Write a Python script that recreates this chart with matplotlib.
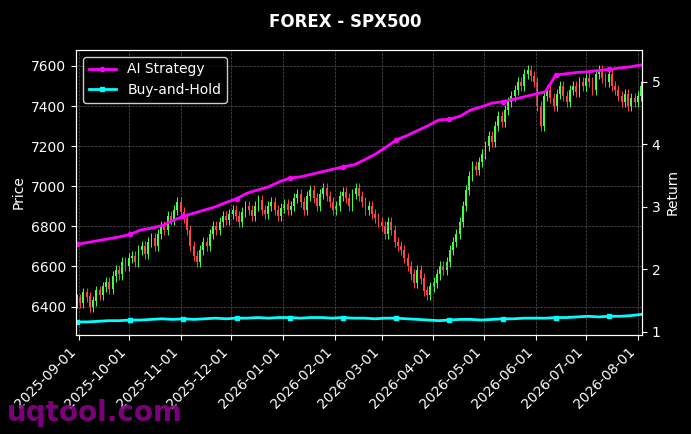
import matplotlib
matplotlib.use('Agg')
import matplotlib.pyplot as plt
import matplotlib.dates as mdates
import numpy as np
import pandas as pd

# estimated closes, evenly spread from 2025-08-31 to 2026-08-03
closes = [6440, 6420, 6470, 6450, 6400, 6430, 6480, 6460, 6500, 6520, 6490, 6550, 6580, 6560, 6620, 6600, 6640, 6650,
          6620, 6680, 6700, 6660, 6720, 6740, 6700, 6760, 6800, 6780, 6850, 6830, 6880, 6920, 6870, 6840,
          6780, 6700, 6650, 6620, 6680, 6720, 6700, 6760, 6800, 6780, 6820, 6850, 6830, 6860, 6880,
          6850, 6820, 6870, 6900, 6880, 6850, 6900, 6930, 6880, 6860, 6900, 6920, 6880, 6850, 6890, 6910,
          6880, 6900, 6940, 6960, 6920, 6880, 6950, 6980, 6940, 6900, 6960, 6990, 6950, 6920, 6880,
          6900, 6950, 6970, 6940, 6900, 6960, 6990, 6950, 6920, 6880, 6900, 6860, 6840, 6820,
          6800, 6760, 6820, 6780, 6720, 6700, 6680, 6640, 6600, 6560, 6520, 6580, 6540, 6480, 6460, 6500,
          6520, 6560, 6600, 6580, 6620, 6680, 6720, 6760, 6820, 6900, 6980, 7050, 7100, 7080, 7120,
          7160, 7200, 7250, 7220, 7300, 7350, 7320, 7380, 7420, 7450, 7480, 7520, 7500, 7560, 7580, 7550,
          7520, 7400, 7300, 7450, 7480, 7440, 7400, 7460, 7500, 7450, 7420, 7480, 7500, 7470, 7520,
          7500, 7540, 7520, 7480, 7560, 7580, 7540, 7520, 7560, 7500, 7480, 7450, 7420, 7460, 7400, 7440,
          7420, 7450, 7500]
first_open = 6420

# weekly returns
ai_ret = [2.40, 2.43, 2.46, 2.49, 2.52, 2.56, 2.63, 2.66, 2.70, 2.78, 2.85, 2.90, 2.95, 3.00, 3.07, 3.13,
          3.22, 3.27, 3.32, 3.40, 3.46, 3.48, 3.52, 3.56, 3.60, 3.64, 3.67, 3.75, 3.84, 3.95, 4.07, 4.14,
          4.22, 4.30, 4.39, 4.40, 4.45, 4.55, 4.60, 4.66, 4.68, 4.72, 4.76, 4.80, 4.84, 5.11, 5.13, 5.15,
          5.16, 5.18, 5.20, 5.22, 5.24, 5.27]
bh_ret = [1.16, 1.16, 1.17, 1.18, 1.18, 1.19, 1.19, 1.20, 1.21, 1.20, 1.21, 1.20, 1.21, 1.22, 1.21, 1.22,
          1.22, 1.23, 1.22, 1.23, 1.23, 1.22, 1.23, 1.23, 1.22, 1.23, 1.22, 1.22, 1.21, 1.22, 1.22, 1.21,
          1.20, 1.19, 1.18, 1.19, 1.20, 1.20, 1.19, 1.20, 1.21, 1.21, 1.22, 1.22, 1.22, 1.23, 1.23, 1.24,
          1.25, 1.24, 1.25, 1.25, 1.26, 1.28]

t0 = mdates.date2num(pd.Timestamp('2025-08-31'))
t1 = mdates.date2num(pd.Timestamp('2026-08-03'))
dates = np.linspace(t0, t1, len(closes))
rdates = np.linspace(t0, t1, len(ai_ret))

plt.style.use('dark_background')
fig = plt.figure(figsize=(6.91, 4.34), dpi=100, facecolor='black')
ax = fig.add_axes([0.11, 0.228, 0.819, 0.657])
ax.set_facecolor('black')

opens = [first_open] + closes[:-1]
for x, o, c in zip(dates, opens, closes):
    col = '#44ff44' if c >= o else '#ff4444'
    ax.vlines(x, min(o, c) - 25, max(o, c) + 25, color=col, lw=0.7)
    ax.bar(x, abs(c - o) + 2, bottom=min(o, c), width=1.1, color=col)

ax.set_ylim(6258, 7680)
ax.set_xlim(t0 - 0.5, t1 + 0.5)
ax.set_ylabel('Price')
ax.grid(True, ls='--', lw=0.5, color='#555555')
ax.xaxis.set_major_locator(mdates.MonthLocator())
ax.xaxis.set_major_formatter(mdates.DateFormatter('%Y-%m-%d'))
plt.setp(ax.get_xticklabels(), rotation=45, ha='right')

ax2 = ax.twinx()
l1, = ax2.plot(rdates, ai_ret, color='magenta', lw=2, marker='o', markersize=3, markevery=5, label='AI Strategy')
l2, = ax2.plot(rdates, bh_ret, color='cyan', lw=2, marker='s', markersize=3, markevery=5, label='Buy-and-Hold')
ax2.set_ylim(0.95, 5.51)
ax2.set_ylabel('Return')
ax.legend(handles=[l1, l2], loc='upper left', facecolor='black', edgecolor='white')

fig.suptitle('FOREX - SPX500', fontweight='bold', y=0.97)
fig.text(0.01, 0.03, 'uqtool.com', color='#8b008b', fontsize=20, fontweight='bold', alpha=0.9)
fig.savefig('out.png', dpi=100, facecolor='black')
